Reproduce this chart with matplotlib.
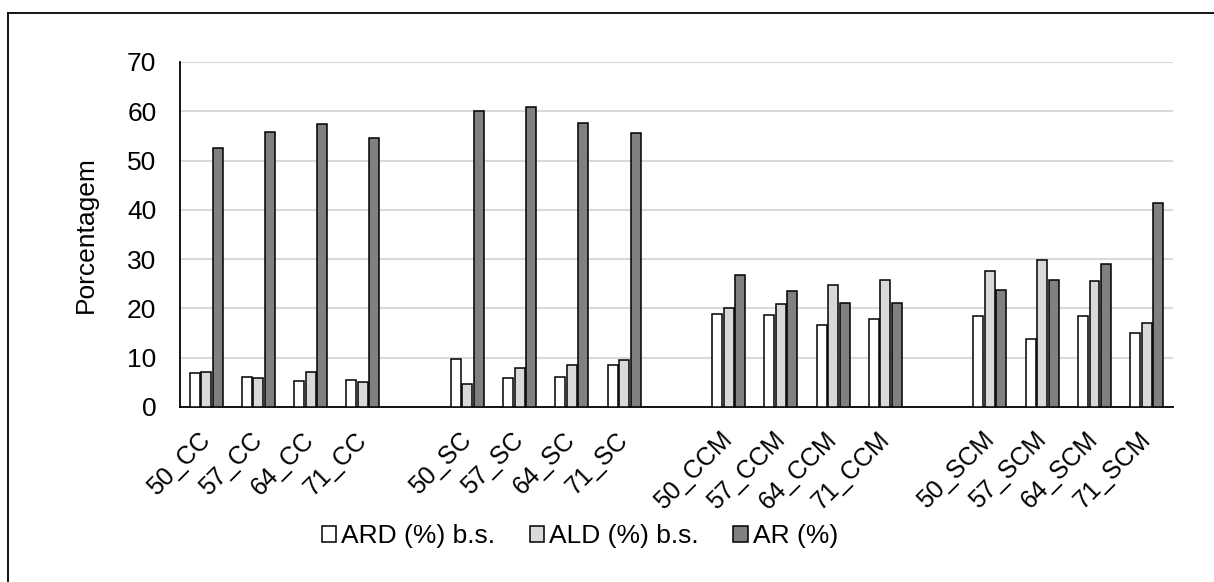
import numpy as np
import matplotlib
matplotlib.use("Agg")
import matplotlib.pyplot as plt
from matplotlib.lines import Line2D

categories = ["50_CC", "57_CC", "64_CC", "71_CC", "",
              "50_SC", "57_SC", "64_SC", "71_SC", "",
              "50_CCM", "57_CCM", "64_CCM", "71_CCM", "",
              "50_SCM", "57_SCM", "64_SCM", "71_SCM"]

# np.nan marks the empty gap categories
ard = [6.8, 6.1, 5.3, 5.5, np.nan,
       9.7, 5.9, 6.0, 8.6, np.nan,
       18.8, 18.6, 16.6, 17.8, np.nan,
       18.5, 13.7, 18.4, 15.0]
ald = [7.0, 5.9, 7.0, 5.1, np.nan,
       4.6, 8.0, 8.6, 9.5, np.nan,
       20.1, 20.8, 24.7, 25.7, np.nan,
       27.6, 29.9, 25.6, 17.1]
ar = [52.6, 55.7, 57.5, 54.6, np.nan,
      60.0, 60.8, 57.7, 55.6, np.nan,
      26.8, 23.5, 21.2, 21.2, np.nan,
      23.8, 25.7, 29.1, 41.4]

series_labels = ["ARD (%) b.s.", "ALD (%) b.s.", "AR (%)"]
colors = ["#FFFFFF", "#D9D9D9", "#808080"]

plt.rcParams.update({
    "font.family": ["Liberation Sans", "DejaVu Sans"],
    "font.size": 19,
})

fig = plt.figure(figsize=(12.14, 5.82), dpi=100)
ax = fig.add_axes([0.1483, 0.3007, 0.8178, 0.5928])

x = np.arange(len(categories))
width = 0.19
step = 0.22
for i, (vals, col) in enumerate(zip([ard, ald, ar], colors)):
    ax.bar(x + (i - 1) * step, vals, width, color=col,
           edgecolor="black", linewidth=1.1, zorder=3, label=series_labels[i])

ax.set_xlim(-0.5, len(categories) - 0.5)
ax.set_ylim(0, 70)
ax.set_yticks(range(0, 71, 10))
ax.set_xticks(x)
ax.set_xticklabels(categories, rotation=45, ha="right", va="center",
                   rotation_mode="anchor", fontsize=18)
ax.tick_params(axis="x", length=0, pad=21)
ax.tick_params(axis="y", length=0, pad=17)
ax.set_ylabel("Porcentagem", labelpad=21)

ax.grid(axis="y", color="#D9D9D9", linewidth=1.5, zorder=0)
for s in ["top", "right"]:
    ax.spines[s].set_visible(False)
ax.spines["left"].set_linewidth(1.3)
ax.spines["bottom"].set_linewidth(1.3)

handles, labels = ax.get_legend_handles_labels()
fig.legend(handles, labels, loc="center", bbox_to_anchor=(580 / 1214, 1 - 536 / 582),
           ncol=3, frameon=False, handlelength=0.55, handleheight=0.55,
           handletextpad=0.2, columnspacing=1.3, fontsize=19)

# outer chart border (left and top visible in the reference)
fig.add_artist(Line2D([8 / 1214, 8 / 1214], [0, 1 - 13 / 582],
                      transform=fig.transFigure, color="black", linewidth=1.3))
fig.add_artist(Line2D([8 / 1214, 1], [1 - 13 / 582, 1 - 13 / 582],
                      transform=fig.transFigure, color="black", linewidth=1.3))

fig.savefig("out.png", dpi=100)
